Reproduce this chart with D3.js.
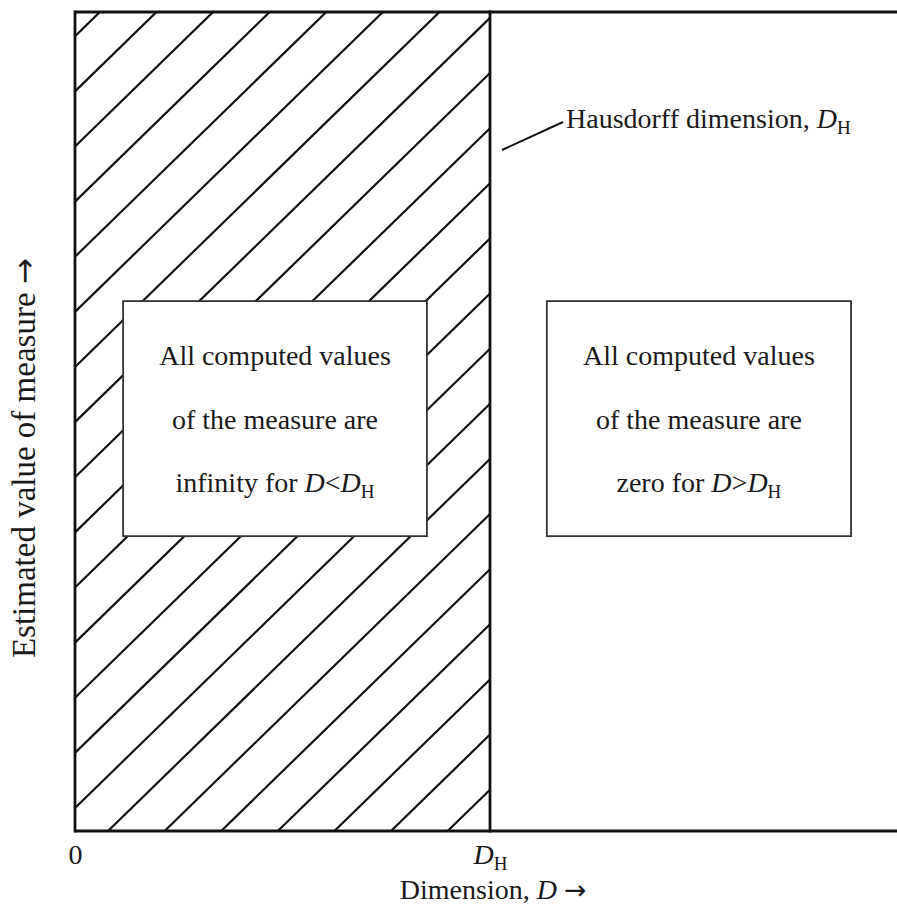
<!DOCTYPE html>
<html>
<head>
<meta charset="utf-8">
<script src="https://cdn.jsdelivr.net/npm/d3@7"></script>
<style>
  html, body { margin: 0; padding: 0; background: #fff; }
  svg { display: block; }
  text { font-family: "Liberation Serif", "DejaVu Serif", serif; fill: #1a1a1a; }
</style>
</head>
<body>
<div id="chart"></div>
<script>
// ---------- data ----------
const dimensionDomain = [0, 1.98];          // D axis, D_H = 1
const measureDomain = [0, 1];
const hausdorffD = 1;
const xTickValues = [0, hausdorffD];
const xTickLabels = [[{t: "0"}], [{t: "D", i: true}, {t: "H", sub: true}]];
const xAxisTitle = [{t: "Dimension, "}, {t: "D", i: true}, {t: " "}, {t: "\u2192", arrow: true}];
const yAxisTitle = [{t: "Estimated value of measure "}, {t: "\u2192", arrow: true}];
const leaderLabel = [{t: "Hausdorff dimension, "}, {t: "D", i: true}, {t: "H", sub: true}];
const leftBoxText = [
  [{t: "All computed values"}],
  [{t: "of the measure are"}],
  [{t: "infinity for "}, {t: "D", i: true}, {t: "<"}, {t: "D", i: true}, {t: "H", sub: true}]
];
const rightBoxText = [
  [{t: "All computed values"}],
  [{t: "of the measure are"}],
  [{t: "zero for "}, {t: "D", i: true}, {t: ">"}, {t: "D", i: true}, {t: "H", sub: true}]
];

// ---------- layout ----------
const W = 897, H = 914;
const plot = {left: 75, right: 897, top: 12, bottom: 831};
const svg = d3.select("#chart").append("svg").attr("width", W).attr("height", H);

const x = d3.scaleLinear().domain(dimensionDomain).range([plot.left, plot.left + (490 - 75) / hausdorffD * dimensionDomain[1]]);
const y = d3.scaleLinear().domain(measureDomain).range([plot.bottom, plot.top]);

function addRich(sel, segs, fs) {
  segs.forEach(s => {
    const ts = sel.append("tspan").text(s.t);
    if (s.i) ts.attr("font-style", "italic");
    if (s.sub) ts.attr("font-size", fs * 0.68).attr("dy", fs * 0.2);
    if (s.arrow) ts.attr("font-family", "DejaVu Sans").attr("font-size", fs * 0.95);
  });
}

// ---------- hatching in region D < D_H ----------
svg.append("defs").append("clipPath").attr("id", "hclip")
  .append("rect")
  .attr("x", x(0)).attr("y", y(1))
  .attr("width", x(hausdorffD) - x(0)).attr("height", y(0) - y(1));

const slope = 0.974, gap = 56.6, firstBottom = 108;
const hatchStarts = d3.range(-16, 8).map(j => firstBottom + gap * j);
svg.append("g").attr("clip-path", "url(#hclip)")
  .selectAll("line").data(hatchStarts).join("line")
  .attr("x1", d => d).attr("y1", y(0))
  .attr("x2", d => d + 1000).attr("y2", y(0) - 1000 * slope)
  .attr("stroke", "#111").attr("stroke-width", 2.2);

// ---------- boxes ----------
const boxes = [
  {x0: 0.116, x1: 0.848, y0: 0.360, y1: 0.647, text: leftBoxText},
  {x0: 1.137, x1: 1.870, y0: 0.360, y1: 0.647, text: rightBoxText}
];
const fs = 28;
boxes.forEach(b => {
  svg.append("rect")
    .attr("x", x(b.x0)).attr("y", y(b.y1))
    .attr("width", x(b.x1) - x(b.x0)).attr("height", y(b.y0) - y(b.y1))
    .attr("fill", "#fff").attr("stroke", "#333").attr("stroke-width", 1.8);
  const cx = (x(b.x0) + x(b.x1)) / 2;
  b.text.forEach((line, k) => {
    const t = svg.append("text").attr("x", cx).attr("y", 365 + k * 63.5)
      .attr("text-anchor", "middle").attr("font-size", fs);
    addRich(t, line, fs);
  });
});

// ---------- frame ----------
const frame = svg.append("g").attr("stroke", "#111").attr("stroke-width", 2.8).attr("fill", "none");
frame.append("line").attr("x1", x(0)).attr("x2", W).attr("y1", y(1)).attr("y2", y(1));
frame.append("line").attr("x1", x(0)).attr("x2", W).attr("y1", y(0)).attr("y2", y(0));
frame.append("line").attr("x1", x(0)).attr("x2", x(0)).attr("y1", y(0) + 1.4).attr("y2", y(1) - 1.4);
frame.append("line").attr("x1", x(hausdorffD)).attr("x2", x(hausdorffD)).attr("y1", y(0) + 1.4).attr("y2", y(1) - 1.4);

// ---------- x axis ticks ----------
const xAxis = d3.axisBottom(x).tickValues(xTickValues).tickSize(0).tickPadding(0).tickFormat(() => "");
const gx = svg.append("g").attr("transform", `translate(0,${y(0)})`).call(xAxis);
gx.select(".domain").remove();
gx.selectAll(".tick text").each(function(d, i) {
  const t = d3.select(this).attr("y", 33).attr("dy", null)
    .attr("font-size", 28).attr("font-family", null).attr("fill", null);
  t.text("");
  addRich(t, xTickLabels[i], 28);
});

// x title
const xt = svg.append("text").attr("x", 493).attr("y", 899).attr("text-anchor", "middle").attr("font-size", 28);
addRich(xt, xAxisTitle, 28);

// y title
const yt = svg.append("text").attr("transform", `translate(35,${458}) rotate(-90)`)
  .attr("text-anchor", "middle").attr("font-size", 33);
addRich(yt, yAxisTitle, 33);

// ---------- leader label ----------
svg.append("line").attr("x1", 502).attr("y1", 150).attr("x2", 563).attr("y2", 122)
  .attr("stroke", "#111").attr("stroke-width", 2);
const lt = svg.append("text").attr("x", 566).attr("y", 128).attr("font-size", 28);
addRich(lt, leaderLabel, 28);
</script>
</body>
</html>
